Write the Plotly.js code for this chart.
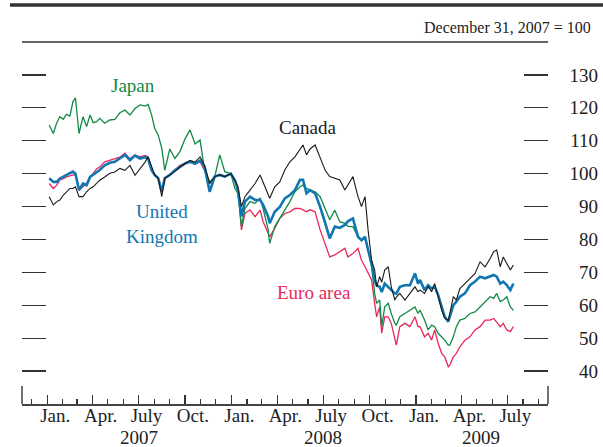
<!DOCTYPE html>
<html>
<head>
<meta charset="utf-8">
<script src="https://cdn.plot.ly/plotly-3.0.1.min.js"></script>
<style>html,body{margin:0;padding:0;background:#fff;}#chart{width:603px;height:447px;}</style>
</head>
<body>
<div id="chart"></div>
<script>
const dates = ['2007-01-05','2007-01-13','2007-01-20','2007-01-26','2007-02-02','2007-02-08','2007-02-15','2007-02-21','2007-02-26','2007-03-05',
'2007-03-13','2007-03-20','2007-03-27','2007-04-02','2007-04-09','2007-04-15','2007-04-25','2007-05-05','2007-05-15','2007-05-25',
'2007-06-04','2007-06-14','2007-06-24','2007-07-04','2007-07-14','2007-07-20','2007-07-27','2007-08-02','2007-08-09','2007-08-16',
'2007-08-22','2007-09-01','2007-09-11','2007-09-21','2007-10-01','2007-10-11','2007-10-21','2007-10-31','2007-11-09','2007-11-19',
'2007-11-29','2007-12-09','2007-12-19','2007-12-31','2008-01-08','2008-01-14','2008-01-21','2008-01-28','2008-02-07','2008-02-17',
'2008-02-27','2008-03-04','2008-03-14','2008-03-17','2008-03-27','2008-04-06','2008-04-16','2008-04-26','2008-05-06','2008-05-16',
'2008-05-22','2008-05-29','2008-06-05','2008-06-15','2008-06-25','2008-07-05','2008-07-14','2008-07-24','2008-08-03','2008-08-13',
'2008-08-19','2008-08-29','2008-09-08','2008-09-15','2008-09-22','2008-09-28','2008-10-05','2008-10-11','2008-10-15','2008-10-21',
'2008-10-25','2008-10-31','2008-11-07','2008-11-13','2008-11-20','2008-11-23','2008-11-30','2008-12-10','2008-12-20','2008-12-30',
'2009-01-05','2009-01-09','2009-01-18','2009-01-25','2009-02-01','2009-02-07','2009-02-14','2009-02-21','2009-02-27','2009-03-06',
'2009-03-09','2009-03-16','2009-03-22','2009-03-29','2009-04-08','2009-04-18','2009-04-28','2009-05-08','2009-05-18','2009-05-28',
'2009-06-04','2009-06-10','2009-06-17','2009-06-23','2009-06-30','2009-07-07','2009-07-13'];

const japan = [114.8,112.2,115.5,117.3,116.5,118,117.5,121.9,123.0,112.2,
117.3,114.3,117.8,115.5,115.8,116.8,115.3,116.3,116.5,118.5,
119.3,117.8,119.8,120.9,120.5,121,117.8,113.8,111.7,107.8,
101,107.5,104.6,106.7,110.5,113.3,109,110.2,101,97.5,
99,105.7,100.6,100,95.5,94,84,89.4,91.5,91,
92.5,89.4,82.9,78.8,83.9,86.4,88.9,91.5,94.5,96,
96.5,95.5,95,94.5,93,89,86,88.9,85.4,84.9,
84,83.9,80.8,79.8,80.3,76.8,71.7,63.6,60.6,61.6,
53.5,59.5,60.6,57.5,54.5,54,56.5,57.5,58.5,59.5,
57.5,58.5,55.5,52.5,54,53.5,51.5,50.4,49.4,47.9,
47.9,50.4,53.5,55.5,56,57.5,58,59.5,61.1,62.6,
62.1,63.6,61.1,61.6,62.6,59.5,58.5];

const canada = [93,90.5,91.5,92,93.5,94.5,95.5,95.5,96,93,
93,94.5,95.5,96,97,98,99,100.1,100.5,101.6,
101,102.5,99.5,101.5,103.5,105.1,102,99.6,98.6,93,
98.6,99.6,100.6,102,103.1,104,103.5,105.1,102.5,97,
99.1,99.6,99.1,100,98,96,90,93,95,97,
99.6,97.5,94,92.5,96,97.5,101.1,103.6,105.1,107.2,
108.7,105.7,107.5,108.7,105.1,101,99.1,98.6,98.1,95,
96.5,99.1,93,90,93,82.9,73.7,70.7,65.6,68.7,
67,70.7,71.7,65.6,61.6,62.5,63.6,61.6,63.6,65.6,
64.1,64.6,63.6,65.6,64.1,66.6,62.6,58.5,56,55.5,
57.5,62.6,61.6,65.1,66.6,68.2,69.7,73.2,71.7,74.2,
76.3,76.8,71.7,74.7,72.7,70.7,72.2];

const unitedKingdom = [98.6,97.5,97.5,98.5,99.1,99.5,100,100.6,100,95,
97,96.5,99,99.6,100.5,101.1,102.5,103.3,103.6,104.6,
105.7,104.1,105.5,104.6,105,104.5,101,99.6,98.6,94.5,
98.6,99.6,101,102,103.1,103.6,103,104,102,94.5,
99.1,99.6,99.1,100,98,95,87,91.5,93,92,
92,90.5,86.9,84.9,88.4,89.9,92.5,93.5,95,98.1,
98.1,94,95,94,89.9,85,80.3,83.9,83.5,84.4,
85.5,86.4,80.8,79.8,80.8,76.8,72.7,67.7,66,65.6,
64,66.6,65.6,64.6,63.6,63.5,65.6,66.1,66.1,69.7,
66.6,67.7,64.6,66.1,65.1,65.6,63.1,59.5,56.5,55,
56.5,60,61.1,62.6,63.6,66.1,67.2,68.7,68.2,68.7,
69.2,68.7,66.6,67.2,66.1,64.6,66.6];

const euroArea = [97,95.5,96.5,98.1,98.5,99,99.3,99.6,99.5,95,
96,97,99.1,100,101.5,102,103.6,104,104.5,105,
106.2,104.5,105.7,105.1,105.5,105.1,101,99.6,98.6,95,
98.6,99.6,101.1,102.5,103.1,103.6,103,103.6,101,97,
99.1,99.6,99.1,100,98,96,82.9,87.9,89,86.9,
88.9,85.4,81.9,80.8,83.4,86.4,87.9,88.4,89.4,89.4,
89,88.4,89,88.4,82.9,78.5,74.7,75.3,76.3,77.3,
74.7,75.7,77.3,73.7,71.7,69.7,67.7,60.6,56.5,59.5,
51.5,56.5,56.5,54.5,50.4,47.9,53.5,54.5,53.5,56.5,
53.5,53.5,50.4,51.5,49.4,52.5,48.4,45.4,44.3,41.3,
41.8,44.3,45.4,47.4,49.4,50.4,52.5,53.5,55.5,55.5,
56,55,53.5,54.5,52.5,52,53.5];

const quarterTicks = ['2007-01-01','2007-04-01','2007-07-01','2007-10-01','2008-01-01','2008-04-01','2008-07-01','2008-10-01','2009-01-01','2009-04-01','2009-07-01'];
const quarterLabels = ['Jan.','Apr.','July','Oct.','Jan.','Apr.','July','Oct.','Jan.','Apr.','July'];
const yearTicks = ['2007-01-01','2008-01-01','2009-01-01'];
const yearLabels = ['2007','2008','2009'];
const yearLabelDates = ['2007-07-01','2008-07-01','2009-05-10'];
const yTicks = [40,50,60,70,80,90,100,110,120,130];

const xRange = ['2006-11-12','2009-09-19 16:00'];
const yRange = [30,140];
const serif = 'Liberation Serif, Times New Roman, serif';
const domEnd = 526/576;

const traces = [
  {x: dates, y: euroArea, type:'scatter', mode:'lines', line:{color:'#e8285c', width:1.3}, hoverinfo:'skip'},
  {x: dates, y: japan, type:'scatter', mode:'lines', line:{color:'#118a45', width:1.3}, hoverinfo:'skip'},
  {x: dates, y: unitedKingdom, type:'scatter', mode:'lines', line:{color:'#1177b3', width:2.6}, hoverinfo:'skip'},
  {x: dates, y: canada, type:'scatter', mode:'lines', yaxis:'y2', line:{color:'#1a1a1a', width:1.1}, hoverinfo:'skip'}
];

const annotations = [
  {text:'December 31, 2007 = 100', xref:'paper', yref:'paper', x:(593-22)/576, y:(404-27)/362, xanchor:'right', yanchor:'middle', showarrow:false, font:{family:serif, size:16, color:'#222'}},
  {text:'Japan', xref:'paper', yref:'paper', x:(132.5-22)/576, y:(404-85)/362, xanchor:'center', yanchor:'middle', showarrow:false, font:{family:serif, size:19, color:'#118a45'}},
  {text:'Canada', xref:'paper', yref:'paper', x:(308-22)/576, y:(404-128)/362, xanchor:'center', yanchor:'middle', showarrow:false, font:{family:serif, size:19, color:'#1a1a1a'}},
  {text:'United<br>Kingdom', xref:'paper', yref:'paper', x:(162-22)/576, y:(404-224)/362, xanchor:'center', yanchor:'middle', showarrow:false, font:{family:serif, size:19, color:'#1177b3'}},
  {text:'Euro area', xref:'paper', yref:'paper', x:(313.5-22)/576, y:(404-292)/362, xanchor:'center', yanchor:'middle', showarrow:false, font:{family:serif, size:19, color:'#e8285c'}}
];
yearLabels.forEach((t,i)=>annotations.push({text:t, xref:'x', yref:'paper', x:yearLabelDates[i], y:(404-437)/362, xanchor:'center', yanchor:'middle', height:18, borderpad:0, showarrow:false, font:{family:serif, size:19, color:'#222'}}));

const shapes = [
  {type:'line', xref:'paper', yref:'paper', x0:0, x1:0, y0:0, y1:18/362, line:{color:'#444', width:1.5}},
  {type:'line', xref:'paper', yref:'paper', x0:domEnd, x1:domEnd, y0:0, y1:18/362, line:{color:'#444', width:1.5}},
  {type:'line', xref:'paper', yref:'paper', x0:0, x1:domEnd, y0:1, y1:1, line:{color:'#333', width:1.3}},
  {type:'line', xref:'paper', yref:'paper', x0:-12/576, x1:581/576, y0:(404-5)/362, y1:(404-5)/362, line:{color:'#333', width:3.5}}
];

const layout = {
  width:603, height:447,
  margin:{l:22, r:5, t:42, b:43, pad:0},
  paper_bgcolor:'#fff', plot_bgcolor:'#fff',
  showlegend:false,
  font:{family:serif, size:19, color:'#222'},
  xaxis:{type:'date', domain:[0, domEnd], range:xRange, tickmode:'array', tickvals:quarterTicks, ticktext:quarterLabels,
    ticks:'inside', ticklen:9, tickcolor:'#333', tickwidth:1.2, ticklabelshift:8, ticklabelstandoff:-6,
    showline:true, linecolor:'#444', linewidth:1.5, showgrid:false, zeroline:false,
    tickfont:{family:serif, size:19, color:'#222'},
    minor:{ticks:'inside', ticklen:5, dtick:'M1', tick0:'2006-12-01', tickcolor:'#333', tickwidth:1.2, showgrid:false}},
  xaxis2:{type:'date', overlaying:'x', anchor:'y', range:xRange, tickmode:'array', tickvals:yearTicks,
    ticks:'inside', ticklen:15, tickcolor:'#333', tickwidth:1.2, showticklabels:false, showline:false, showgrid:false, zeroline:false},
  yaxis:{range:yRange, tickmode:'array', tickvals:yTicks, ticks:'inside', ticklen:24, tickcolor:'#333', tickwidth:1.2,
    mirror:'ticks', showticklabels:false, showline:false, showgrid:false, zeroline:false},
  yaxis2:{range:yRange, overlaying:'y', anchor:'free', position:1, side:'left', tickmode:'array', tickvals:yTicks,
    ticks:'', showticklabels:true, showline:false, showgrid:false, zeroline:false,
    tickfont:{family:serif, size:19, color:'#222'}},
  annotations:annotations,
  shapes:shapes
};

Plotly.newPlot('chart', traces, layout, {staticPlot:true, displayModeBar:false});
</script>
</body>
</html>
